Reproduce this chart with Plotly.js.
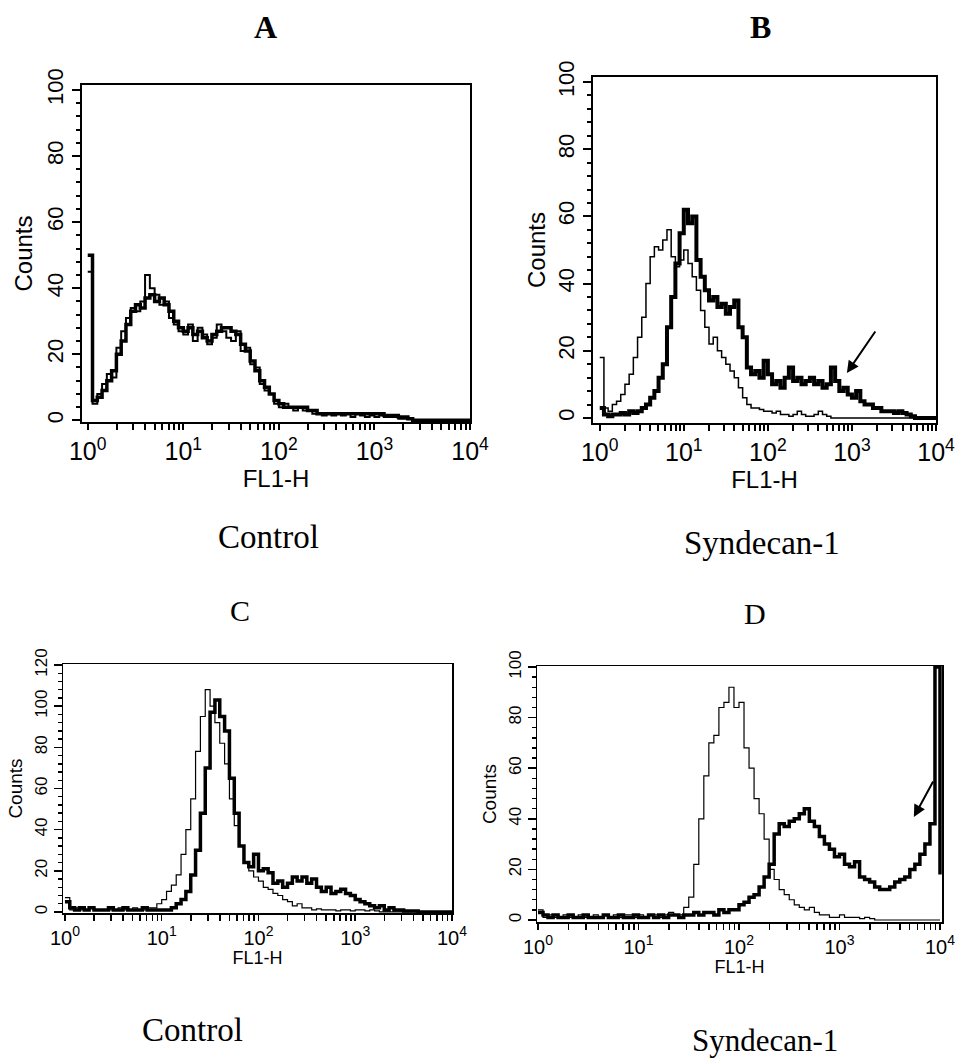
<!DOCTYPE html>
<html>
<head>
<meta charset="utf-8">
<script src="https://cdn.plot.ly/plotly-3.0.1.min.js"></script>
<style>
html,body{margin:0;padding:0;background:#fff;}
#chart{width:955px;height:1061px;}
</style>
</head>
<body>
<div id="chart"></div>
<script>
// Channel positions, in decades (log10 of FL1-H)
const channelLog = [0.00,0.05,0.10,0.15,0.20,0.25,0.30,0.35,0.40,0.45,
  0.50,0.55,0.60,0.65,0.70,0.75,0.80,0.85,0.90,0.95,
  1.00,1.05,1.10,1.15,1.20,1.25,1.30,1.35,1.40,1.45,
  1.50,1.55,1.60,1.65,1.70,1.75,1.80,1.85,1.90,1.95,
  2.00,2.05,2.10,2.15,2.20,2.25,2.30,2.35,2.40,2.45,
  2.50,2.55,2.60,2.65,2.70,2.75,2.80,2.85,2.90,2.95,
  3.00,3.05,3.10,3.15,3.20,3.25,3.30,3.35,3.40,3.45,
  3.50,3.55,3.60,3.65,3.70,3.75,3.80,3.85,3.90,3.95,4.00];

// Panel A (Control) – thick and thin histograms
const countsA_thick = [50,6,7,9,12,15,20,24,29,33,
  35,34,37,38,36,37,35,33,30,28,
  27,28,26,27,25,24,26,27,28,28,
  27,26,23,21,18,15,12,10,8,6,
  5,4,4,4,4,4,3,3,2,2,
  2,2,2,2,2,2,2,2,2,2,
  2,2,1.5,1.5,1.5,1,1,0.5,0,0,
  0,0,0,0,0,0,0,0,0,0,0];
const countsA_thin = [45,5,8,11,14,13,22,27,31,34,
  33,36,44,40,38,35,36,31,29,27,
  26,29,24,28,26,23,25,29,27,25,
  24,27,21,22,17,16,11,9,8,5,
  4,5,4,3,4,3,3,2,2,1.5,
  2,1.5,2,1.5,2,1,2,1.5,1,1.5,
  1,1.5,1,1,1,0.5,0.5,0.5,0,0,
  0,0,0,0,0,0,0,0,0,0,0];

// Panel B (Syndecan-1)
const countsB_thick = [3,1,0.5,1,1,1.5,1,2,1.5,2,
  3,4,6,8,12,16,27,36,46,55,
  62,58,60,47,42,38,35,36,33,34,
  31,33,35,27,24,15,13,14,12,17,
  13,10,11,9,12,15,11,12,10,11,
  12,10,11,9,10,15,11,8,9,7,
  6,8,5,4,4,3,3,2,2,2,
  1.5,2,1.5,1,0.5,0,0,0,0,0,0];
const countsB_thin = [18,3,2,4,5,7,10,13,18,24,
  30,40,48,51,50,53,56,48,45,47,
  50,46,42,38,32,27,22,24,20,18,
  16,14,12,9,6,4,3,3,2.5,2,
  2,1.5,2,1,1,0.5,1,2,1,0.5,
  0.5,1,2,1,0.5,0,0,0,0,0,
  0,0,0,0,0,0,0,0,0,0,
  0,0,0,0,0,0,0,0,0,0,0];

// Panel C (Control)
const countsC_thick = [5,2,1,2,1,2,1,1,1,2,
  1,1,2,1,1,1,2,1,1,1,
  1,1,2,4,6,10,18,30,48,70,
  97,103,95,88,65,48,32,24,22,28,
  20,21,19,14,15,12,14,17,15,17,
  14,16,12,10,12,9,10,11,9,8,
  6,5,4,3,2,3,1,2,1,1,
  0.5,0.5,0.5,0,0,0,0,0,0,0,0];
const countsC_thin = [7,1,2,1,1,2,1,1,1,1,
  1,2,1,1,2,1,1,2,2,4,
  6,10,13,18,28,40,55,78,95,108,
  100,92,82,72,55,42,32,24,20,17,
  15,12,11,9,8,6,5,3,4,2,
  2,1,1.5,1,1,1,0.5,1,1,0.5,
  1,1,0.5,1,0.5,0,0,0,0,0,
  0,0,0,0,0,0,0,0,0,0,0];

// Panel D (Syndecan-1)
const countsD_thick = [3,2,1,2,1,1,2,1,1,2,
  1,1,1,2,1,1,2,1,1,2,
  1,1,2,1,2,1,2,2,1,2,
  2,3,2,3,3,2,4,3,4,4,
  6,7,9,10,13,17,22,34,38,37,
  39,40,42,44,39,37,33,30,28,25,
  26,22,21,23,17,16,15,13,12,12,
  13,15,16,17,20,22,26,30,38,100,18];
const countsD_thin = [4,1,2,1,1,2,1,1,2,1,
  1,2,1,2,1,2,1,2,2,1,
  2,1,2,2,1,2,3,2,2,5,
  9,22,40,57,70,73,84,86,92,84,
  86,68,60,48,42,32,20,16,12,10,
  8,6,5,4,5,3,2,2,1,1,
  2,1,1,1,0.5,1,0.5,0,0,0,
  0,0,0,0,0,0,0,0,0,0,0];

const decadeExponents = ['0','1','2','3','4'];
const decadeValues = [1,10,100,1000,10000];
const countTicks100 = [0,20,40,60,80,100];
const countTicks120 = [0,20,40,60,80,100,120];
const minorMultipliers = [2,3,4,5,6,7,8,9];

const W = 955, H = 1061;
const fl = channelLog.map(v => Math.pow(10, v));

// x tick list: labelled decades plus unlabelled log minor ticks
const xTickVals = [], xTickText = [];
decadeValues.forEach((v, i) => {
  xTickVals.push(v); xTickText.push('10<sup>' + decadeExponents[i] + '</sup>');
  if (i < decadeValues.length - 1) minorMultipliers.forEach(m => { xTickVals.push(m * v); xTickText.push(''); });
});

const sans = 'Liberation Sans, Arial, Helvetica, sans-serif';
const serif = 'Liberation Serif, Times New Roman, serif';

function px2x(a, b) { return [a / W, b / W]; }
function py2y(top, bottom) { return [1 - bottom / H, 1 - top / H]; }

function trace(y, xa, ya, width) {
  return {x: fl, y: y, xaxis: xa, yaxis: ya, type: 'scatter', mode: 'lines',
    line: {shape: 'hv', color: '#000', width: width}, hoverinfo: 'skip', showlegend: false};
}

function xAxis(dom, range, anchor, tickSize, titleSize, lw, standoff) {
  return {type: 'log', domain: dom, range: range, anchor: anchor,
    tickmode: 'array', tickvals: xTickVals, ticktext: xTickText,
    ticks: 'outside', ticklen: 6, tickwidth: lw, tickcolor: '#000',
    ticklabeloverflow: 'allow',
    showline: true, linecolor: '#000', linewidth: lw, mirror: true,
    showgrid: false, zeroline: false,
    tickfont: {family: sans, size: tickSize, color: '#000'},
    title: {text: 'FL1-H', font: {family: sans, size: titleSize, color: '#000'}, standoff: standoff}};
}
function yAxis(dom, range, anchor, tickv, tickSize, titleSize, lw, standoff) {
  return {domain: dom, range: range, anchor: anchor,
    tickmode: 'array', tickvals: tickv, tickangle: -90,
    ticks: 'outside', ticklen: 8, tickwidth: lw, tickcolor: '#000',
    minor: {dtick: 4, ticks: 'outside', ticklen: 4, tickwidth: lw, tickcolor: '#000', showgrid: false},
    showline: true, linecolor: '#000', linewidth: lw, mirror: true,
    showgrid: false, zeroline: false,
    tickfont: {family: sans, size: tickSize, color: '#000'},
    title: {text: 'Counts', font: {family: sans, size: titleSize, color: '#000'}, standoff: standoff}};
}

const data = [
  trace(countsA_thin, 'x', 'y', 2),
  trace(countsA_thick, 'x', 'y', 3.5),
  trace(countsB_thin, 'x2', 'y2', 1.5),
  trace(countsB_thick, 'x2', 'y2', 4),
  trace(countsC_thin, 'x3', 'y3', 1.2),
  trace(countsC_thick, 'x3', 'y3', 3.5),
  trace(countsD_thin, 'x4', 'y4', 1.2),
  trace(countsD_thick, 'x4', 'y4', 3.5)
];

function label(text, x, y, size, bold) {
  return {text: bold ? '<b>' + text + '</b>' : text, xref: 'paper', yref: 'paper',
    x: x / W, y: 1 - y / H, xanchor: 'center', yanchor: 'middle', showarrow: false,
    font: {family: serif, size: size, color: '#000'}};
}

const rA = [-0.06, 4.0], rB = [-0.08, 4.0], rC = [-0.02, 4.0], rD = [-0.01, 4.02];
const dA = px2x(82, 470), dB = px2x(593, 936), dC = px2x(63, 452), dD = px2x(537, 942);

const layout = {
  width: W, height: H,
  margin: {l: 0, r: 0, t: 0, b: 0},
  paper_bgcolor: '#fff', plot_bgcolor: '#fff',
  showlegend: false,
  xaxis: xAxis(dA, rA, 'y', 25, 24, 2, 0),
  yaxis: yAxis(py2y(85, 422), [-0.5, 101.5], 'x', countTicks100, 22, 24, 2, 4),
  xaxis2: xAxis(dB, rB, 'y2', 25, 24, 2, 0),
  yaxis2: yAxis(py2y(77, 423), [-1.5, 101.5], 'x2', countTicks100, 22, 24, 2, 2),
  xaxis3: xAxis(dC, rC, 'y3', 20, 18, 1.5, 0),
  yaxis3: yAxis(py2y(664, 913), [-0.5, 120.5], 'x3', countTicks120, 17, 19, 1.5, 4),
  xaxis4: xAxis(dD, rD, 'y4', 20, 18, 1.5, 0),
  yaxis4: yAxis(py2y(666, 922), [-0.8, 100.4], 'x4', countTicks100, 17, 19, 1.5, 4),
  annotations: [
    label('A', 265, 27, 32, true),
    label('B', 760, 27, 32, true),
    label('Control', 268, 537, 33, false),
    label('Syndecan-1', 762, 543, 33, false),
    label('C', 240, 610, 30, false),
    label('D', 755, 613, 30, false),
    label('Control', 192, 1030, 33, false),
    label('Syndecan-1', 765, 1040, 31, false),
    {x: 2.94, y: 13.4, xref: 'x2', yref: 'y2', ax: 3.29, ay: 26.2, axref: 'x2', ayref: 'y2',
     showarrow: true, arrowhead: 2, arrowsize: 1.2, arrowwidth: 2, arrowcolor: '#000', text: ''},
    {x: 3.74, y: 40.7, xref: 'x4', yref: 'y4', ax: 3.94, ay: 55.3, axref: 'x4', ayref: 'y4',
     showarrow: true, arrowhead: 2, arrowsize: 1.2, arrowwidth: 2, arrowcolor: '#000', text: ''}
  ]
};

Plotly.newPlot('chart', data, layout, {staticPlot: true, displayModeBar: false});
</script>
</body>
</html>
